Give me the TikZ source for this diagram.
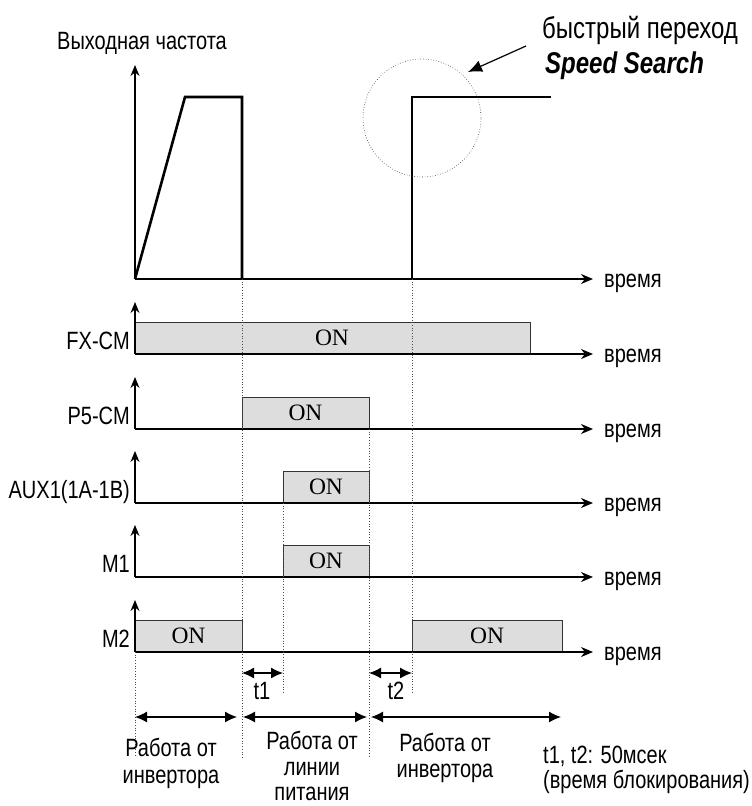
\documentclass[tikz,border=0pt]{standalone}
\usepackage{fontspec}
\setmainfont{Liberation Sans}[FakeStretch=0.8]
\newfontfamily\onfont{Liberation Serif}
\usetikzlibrary{arrows.meta}
\begin{document}
\begin{tikzpicture}[x=1pt,y=-1pt,
  axis/.style={line width=1.3pt,-{Stealth[length=12pt,width=10pt]}},
  vaxis/.style={line width=1.3pt,-{Stealth[length=11pt,width=9pt]}},
  pulse/.style={line width=2.6pt,line cap=butt,line join=miter},
  onbox/.style={draw=black!80,line width=1pt,fill=gray!27},
  guide/.style={dotted,line width=0.7pt,black!70},
  dbl/.style={line width=1.2pt,{Latex[length=12pt,width=11pt]}-{Latex[length=12pt,width=11pt]}},
  txt/.style={font=\fontsize{25}{28}\selectfont,inner sep=0pt},
  big/.style={font=\fontsize{30}{34}\selectfont,inner sep=0pt},
  ontxt/.style={font=\onfont\fontsize{23.5}{26}\selectfont,inner sep=0pt}]
\useasboundingbox (0,0) rectangle (752,806);

% ---------- top chart ----------
\coordinate (O) at (135,279);
\coordinate (Oy) at (135,65);
\coordinate (Ox) at (593,279);
\draw[vaxis] (O) -- (Oy);
\draw[axis] (O) -- (Ox);
\node[txt,anchor=base west] (tlab) at (57,49) {Выходная частота};
\node[txt,anchor=base west] (t0) at (604,287) {время};
\coordinate (p1) at (185,97);
\coordinate (p2) at (242,97);
\coordinate (p3) at (242,279);
\coordinate (q1) at (412,279);
\coordinate (q2) at (412,97);
\coordinate (q3) at (551,97);
\draw[pulse] (O) -- (p1) -- (p2) -- (p3);
\draw[pulse] (q1) -- (q2) -- (q3);
\node[draw,dotted,line width=0.6pt,black!80,circle,minimum size=118pt,inner sep=0pt] (circ) at (422,118) {};
\node[big,anchor=base west] (fast) at (542,38) {быстрый переход};
\node[big,anchor=base west] (ss) at (545,73) {\bfseries\itshape Speed Search};
\coordinate (ca) at (526,46);
\coordinate (cb) at (468,72);
\draw[line width=1.2pt,-{Latex[length=14pt,width=12pt]}] (ca) -- (cb);

% ---------- FX-CM ----------
\draw[onbox] (135,322) rectangle (530,354);
\node[ontxt] (on1) at (332,338) {ON};
\coordinate (f0) at (135,354);
\draw[vaxis] (f0) -- (135,302);
\draw[axis] (f0) -- (593,354);
\node[txt,anchor=base west] (t1l) at (604,362) {время};
\node[txt,anchor=base east] (fx) at (130,349) {FX-CM};

% ---------- P5-CM ----------
\draw[onbox] (242,397) rectangle (369,429);
\node[ontxt] (on2) at (305.5,413) {ON};
\coordinate (g0) at (135,429);
\draw[vaxis] (g0) -- (135,377);
\draw[axis] (g0) -- (593,429);
\node[txt,anchor=base west] (t2l) at (604,437) {время};
\node[txt,anchor=base east] (p5) at (130,424) {P5-CM};

% ---------- AUX1 ----------
\draw[onbox] (283,471) rectangle (369,503);
\node[ontxt] (on3) at (326,487) {ON};
\coordinate (h0) at (135,503);
\draw[vaxis] (h0) -- (135,451);
\draw[axis] (h0) -- (593,503);
\node[txt,anchor=base west] (t3l) at (604,511) {время};
\node[txt,anchor=base east] (aux) at (130,498) {AUX1(1A-1B)};

% ---------- M1 ----------
\draw[onbox] (283,545) rectangle (369,577);
\node[ontxt] (on4) at (326,561) {ON};
\coordinate (k0) at (135,577);
\draw[vaxis] (k0) -- (135,525);
\draw[axis] (k0) -- (593,577);
\node[txt,anchor=base west] (t4l) at (604,585) {время};
\node[txt,anchor=base east] (m1) at (130,572) {M1};

% ---------- M2 ----------
\draw[onbox] (135,620) rectangle (242,652);
\draw[onbox] (412,620) rectangle (562,652);
\node[ontxt] (on5) at (188.5,636) {ON};
\node[ontxt] (on6) at (487,636) {ON};
\coordinate (m0) at (135,652);
\draw[vaxis] (m0) -- (135,600);
\draw[axis] (m0) -- (593,652);
\node[txt,anchor=base west] (t5l) at (604,660) {время};
\node[txt,anchor=base east] (m2) at (130,647) {M2};

% ---------- guides ----------
\draw[guide] (242,279) -- (242,757);
\draw[guide] (135,652) -- (135,757);
\draw[guide] (283,503) -- (283,693);
\draw[guide] (369,429) -- (369,757);
\draw[guide] (412,279) -- (412,693);

% ---------- t1, t2 ----------
\coordinate (a1) at (242,673);
\coordinate (a2) at (283,673);
\coordinate (b1) at (369,673);
\coordinate (b2) at (412,673);
\draw[dbl] (a1) -- (a2);
\draw[dbl] (b1) -- (b2);
\node[txt,anchor=base] (tt1) at (262,699) {t1};
\node[txt,anchor=base] (tt2) at (396,699) {t2};

% ---------- phases ----------
\coordinate (c1) at (135,717);
\coordinate (c2) at (237,717);
\coordinate (c3) at (243,717);
\coordinate (c4) at (367,717);
\coordinate (c5) at (371,717);
\coordinate (c6) at (561,717);
\draw[dbl] (c1) -- (c2);
\draw[dbl] (c3) -- (c4);
\draw[dbl] (c5) -- (c6);
\node[txt,anchor=base] (ph1a) at (171,756) {Работа от};
\node[txt,anchor=base] (ph1b) at (171,783) {инвертора};
\node[txt,anchor=base] (ph2a) at (312,749) {Работа от};
\node[txt,anchor=base] (ph2b) at (312,775.5) {линии};
\node[txt,anchor=base] (ph2c) at (312,800) {питания};
\node[txt,anchor=base] (ph3a) at (445,751) {Работа от};
\node[txt,anchor=base] (ph3b) at (445,777) {инвертора};
\node[txt,anchor=base west] (note1) at (543,763) {t1, t2: 50мсек};
\node[txt,anchor=base west] (note2) at (543,788) {(время блокирования)};
\end{tikzpicture}
\end{document}
